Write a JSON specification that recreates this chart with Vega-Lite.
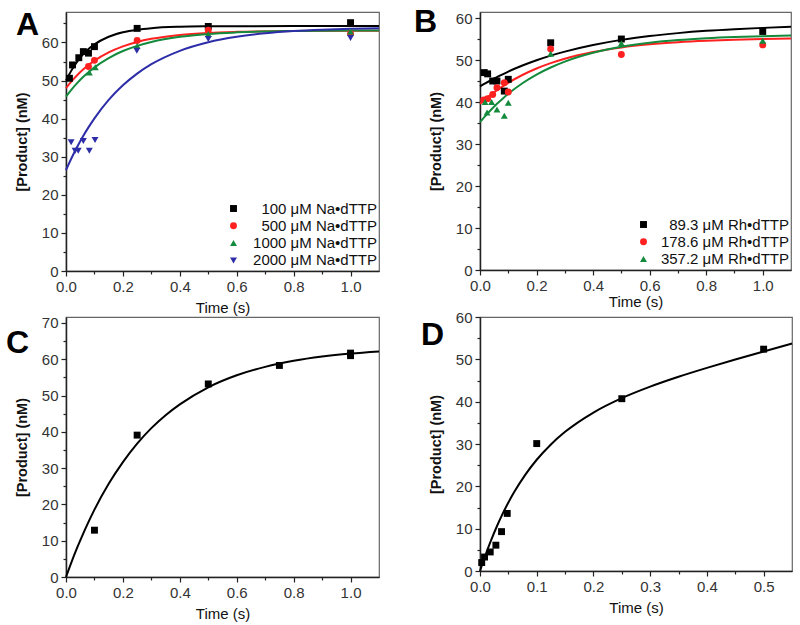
{
  "$schema": "https://vega.github.io/schema/vega-lite/v6.json",
  "padding": {"left": 5, "top": 5, "right": 0, "bottom": 0},
  "background": "white",
  "datasets": {
    "aFit": [
      {"t":0,"v":50,"s":"100 μM Na•dTTP"},{"t":0.02,"v":52.8,"s":"100 μM Na•dTTP"},{"t":0.04,"v":55.05,"s":"100 μM Na•dTTP"},{"t":0.06,"v":56.86,"s":"100 μM Na•dTTP"},{"t":0.08,"v":58.32,"s":"100 μM Na•dTTP"},{"t":0.1,"v":59.5,"s":"100 μM Na•dTTP"},{"t":0.15,"v":61.51,"s":"100 μM Na•dTTP"},{"t":0.2,"v":62.68,"s":"100 μM Na•dTTP"},{"t":0.25,"v":63.36,"s":"100 μM Na•dTTP"},{"t":0.3,"v":63.76,"s":"100 μM Na•dTTP"},{"t":0.4,"v":64.12,"s":"100 μM Na•dTTP"},{"t":0.5,"v":64.24,"s":"100 μM Na•dTTP"},{"t":0.6,"v":64.28,"s":"100 μM Na•dTTP"},{"t":0.8,"v":64.3,"s":"100 μM Na•dTTP"},{"t":1.0,"v":64.3,"s":"100 μM Na•dTTP"},{"t":1.1,"v":64.3,"s":"100 μM Na•dTTP"},
      {"t":0,"v":48,"s":"500 μM Na•dTTP"},{"t":0.02,"v":49.84,"s":"500 μM Na•dTTP"},{"t":0.04,"v":51.46,"s":"500 μM Na•dTTP"},{"t":0.06,"v":52.88,"s":"500 μM Na•dTTP"},{"t":0.08,"v":54.12,"s":"500 μM Na•dTTP"},{"t":0.1,"v":55.22,"s":"500 μM Na•dTTP"},{"t":0.15,"v":57.41,"s":"500 μM Na•dTTP"},{"t":0.2,"v":58.98,"s":"500 μM Na•dTTP"},{"t":0.25,"v":60.13,"s":"500 μM Na•dTTP"},{"t":0.3,"v":60.96,"s":"500 μM Na•dTTP"},{"t":0.4,"v":61.98,"s":"500 μM Na•dTTP"},{"t":0.5,"v":62.51,"s":"500 μM Na•dTTP"},{"t":0.6,"v":62.79,"s":"500 μM Na•dTTP"},{"t":0.8,"v":63.02,"s":"500 μM Na•dTTP"},{"t":1.0,"v":63.08,"s":"500 μM Na•dTTP"},{"t":1.1,"v":63.09,"s":"500 μM Na•dTTP"},
      {"t":0,"v":45.8,"s":"1000 μM Na•dTTP"},{"t":0.02,"v":47.71,"s":"1000 μM Na•dTTP"},{"t":0.04,"v":49.4,"s":"1000 μM Na•dTTP"},{"t":0.06,"v":50.92,"s":"1000 μM Na•dTTP"},{"t":0.08,"v":52.26,"s":"1000 μM Na•dTTP"},{"t":0.1,"v":53.46,"s":"1000 μM Na•dTTP"},{"t":0.15,"v":55.91,"s":"1000 μM Na•dTTP"},{"t":0.2,"v":57.75,"s":"1000 μM Na•dTTP"},{"t":0.25,"v":59.11,"s":"1000 μM Na•dTTP"},{"t":0.3,"v":60.14,"s":"1000 μM Na•dTTP"},{"t":0.4,"v":61.49,"s":"1000 μM Na•dTTP"},{"t":0.5,"v":62.24,"s":"1000 μM Na•dTTP"},{"t":0.6,"v":62.66,"s":"1000 μM Na•dTTP"},{"t":0.8,"v":63.03,"s":"1000 μM Na•dTTP"},{"t":1.0,"v":63.15,"s":"1000 μM Na•dTTP"},{"t":1.1,"v":63.16,"s":"1000 μM Na•dTTP"},
      {"t":0,"v":26.5,"s":"2000 μM Na•dTTP"},{"t":0.02,"v":29.73,"s":"2000 μM Na•dTTP"},{"t":0.04,"v":32.69,"s":"2000 μM Na•dTTP"},{"t":0.06,"v":35.39,"s":"2000 μM Na•dTTP"},{"t":0.08,"v":37.83,"s":"2000 μM Na•dTTP"},{"t":0.1,"v":40.08,"s":"2000 μM Na•dTTP"},{"t":0.15,"v":44.91,"s":"2000 μM Na•dTTP"},{"t":0.2,"v":48.74,"s":"2000 μM Na•dTTP"},{"t":0.25,"v":51.81,"s":"2000 μM Na•dTTP"},{"t":0.3,"v":54.29,"s":"2000 μM Na•dTTP"},{"t":0.4,"v":57.81,"s":"2000 μM Na•dTTP"},{"t":0.5,"v":60.06,"s":"2000 μM Na•dTTP"},{"t":0.6,"v":61.48,"s":"2000 μM Na•dTTP"},{"t":0.7,"v":62.39,"s":"2000 μM Na•dTTP"},{"t":0.8,"v":62.98,"s":"2000 μM Na•dTTP"},{"t":0.9,"v":63.35,"s":"2000 μM Na•dTTP"},{"t":1.0,"v":63.58,"s":"2000 μM Na•dTTP"},{"t":1.1,"v":63.73,"s":"2000 μM Na•dTTP"}
    ],
    "aPts": [
      {"t":0.012,"v":50.6,"s":"100 μM Na•dTTP"},{"t":0.023,"v":54.1,"s":"100 μM Na•dTTP"},{"t":0.045,"v":56.0,"s":"100 μM Na•dTTP"},{"t":0.061,"v":57.6,"s":"100 μM Na•dTTP"},{"t":0.079,"v":57.2,"s":"100 μM Na•dTTP"},{"t":0.1,"v":58.9,"s":"100 μM Na•dTTP"},{"t":0.25,"v":63.7,"s":"100 μM Na•dTTP"},{"t":0.5,"v":64.2,"s":"100 μM Na•dTTP"},{"t":1.0,"v":65.2,"s":"100 μM Na•dTTP"},
      {"t":0.079,"v":53.7,"s":"500 μM Na•dTTP"},{"t":0.1,"v":55.3,"s":"500 μM Na•dTTP"},{"t":0.25,"v":60.5,"s":"500 μM Na•dTTP"},{"t":0.5,"v":63.2,"s":"500 μM Na•dTTP"},{"t":1.0,"v":62.3,"s":"500 μM Na•dTTP"},
      {"t":0.082,"v":52.1,"s":"1000 μM Na•dTTP"},{"t":0.103,"v":53.5,"s":"1000 μM Na•dTTP"},{"t":0.25,"v":59.1,"s":"1000 μM Na•dTTP"},{"t":0.5,"v":62.2,"s":"1000 μM Na•dTTP"},{"t":1.0,"v":62.9,"s":"1000 μM Na•dTTP"},
      {"t":0.018,"v":33.8,"s":"2000 μM Na•dTTP"},{"t":0.032,"v":31.6,"s":"2000 μM Na•dTTP"},{"t":0.043,"v":31.6,"s":"2000 μM Na•dTTP"},{"t":0.061,"v":34.1,"s":"2000 μM Na•dTTP"},{"t":0.082,"v":31.6,"s":"2000 μM Na•dTTP"},{"t":0.102,"v":34.4,"s":"2000 μM Na•dTTP"},{"t":0.249,"v":57.8,"s":"2000 μM Na•dTTP"},{"t":0.5,"v":60.9,"s":"2000 μM Na•dTTP"},{"t":1.0,"v":61.2,"s":"2000 μM Na•dTTP"}
    ],
    "bFit": [
      {"t":0,"v":43.7,"s":"89.3 μM Rh•dTTP"},{"t":0.02,"v":44.49,"s":"89.3 μM Rh•dTTP"},{"t":0.04,"v":45.24,"s":"89.3 μM Rh•dTTP"},{"t":0.06,"v":45.94,"s":"89.3 μM Rh•dTTP"},{"t":0.08,"v":46.6,"s":"89.3 μM Rh•dTTP"},{"t":0.1,"v":47.24,"s":"89.3 μM Rh•dTTP"},{"t":0.15,"v":48.68,"s":"89.3 μM Rh•dTTP"},{"t":0.2,"v":49.94,"s":"89.3 μM Rh•dTTP"},{"t":0.25,"v":51.05,"s":"89.3 μM Rh•dTTP"},{"t":0.3,"v":52.0,"s":"89.3 μM Rh•dTTP"},{"t":0.4,"v":53.57,"s":"89.3 μM Rh•dTTP"},{"t":0.5,"v":54.79,"s":"89.3 μM Rh•dTTP"},{"t":0.6,"v":55.7,"s":"89.3 μM Rh•dTTP"},{"t":0.7,"v":56.4,"s":"89.3 μM Rh•dTTP"},{"t":0.8,"v":56.94,"s":"89.3 μM Rh•dTTP"},{"t":0.9,"v":57.34,"s":"89.3 μM Rh•dTTP"},{"t":1.0,"v":57.65,"s":"89.3 μM Rh•dTTP"},{"t":1.1,"v":57.89,"s":"89.3 μM Rh•dTTP"},
      {"t":0,"v":39.6,"s":"178.6 μM Rh•dTTP"},{"t":0.02,"v":40.75,"s":"178.6 μM Rh•dTTP"},{"t":0.04,"v":41.82,"s":"178.6 μM Rh•dTTP"},{"t":0.06,"v":42.81,"s":"178.6 μM Rh•dTTP"},{"t":0.08,"v":43.72,"s":"178.6 μM Rh•dTTP"},{"t":0.1,"v":44.57,"s":"178.6 μM Rh•dTTP"},{"t":0.15,"v":46.43,"s":"178.6 μM Rh•dTTP"},{"t":0.2,"v":47.97,"s":"178.6 μM Rh•dTTP"},{"t":0.25,"v":49.25,"s":"178.6 μM Rh•dTTP"},{"t":0.3,"v":50.3,"s":"178.6 μM Rh•dTTP"},{"t":0.4,"v":51.89,"s":"178.6 μM Rh•dTTP"},{"t":0.5,"v":52.99,"s":"178.6 μM Rh•dTTP"},{"t":0.6,"v":53.73,"s":"178.6 μM Rh•dTTP"},{"t":0.7,"v":54.24,"s":"178.6 μM Rh•dTTP"},{"t":0.8,"v":54.59,"s":"178.6 μM Rh•dTTP"},{"t":0.9,"v":54.83,"s":"178.6 μM Rh•dTTP"},{"t":1.0,"v":54.99,"s":"178.6 μM Rh•dTTP"},{"t":1.1,"v":55.1,"s":"178.6 μM Rh•dTTP"},
      {"t":0,"v":35.2,"s":"357.2 μM Rh•dTTP"},{"t":0.02,"v":36.77,"s":"357.2 μM Rh•dTTP"},{"t":0.04,"v":38.21,"s":"357.2 μM Rh•dTTP"},{"t":0.06,"v":39.57,"s":"357.2 μM Rh•dTTP"},{"t":0.08,"v":40.8,"s":"357.2 μM Rh•dTTP"},{"t":0.1,"v":41.95,"s":"357.2 μM Rh•dTTP"},{"t":0.15,"v":44.46,"s":"357.2 μM Rh•dTTP"},{"t":0.2,"v":46.53,"s":"357.2 μM Rh•dTTP"},{"t":0.25,"v":48.22,"s":"357.2 μM Rh•dTTP"},{"t":0.3,"v":49.62,"s":"357.2 μM Rh•dTTP"},{"t":0.4,"v":51.71,"s":"357.2 μM Rh•dTTP"},{"t":0.5,"v":53.13,"s":"357.2 μM Rh•dTTP"},{"t":0.6,"v":54.09,"s":"357.2 μM Rh•dTTP"},{"t":0.7,"v":54.74,"s":"357.2 μM Rh•dTTP"},{"t":0.8,"v":55.18,"s":"357.2 μM Rh•dTTP"},{"t":0.9,"v":55.48,"s":"357.2 μM Rh•dTTP"},{"t":1.0,"v":55.68,"s":"357.2 μM Rh•dTTP"},{"t":1.1,"v":55.81,"s":"357.2 μM Rh•dTTP"}
    ],
    "bPts": [
      {"t":0.015,"v":47.0,"s":"89.3 μM Rh•dTTP"},{"t":0.027,"v":46.7,"s":"89.3 μM Rh•dTTP"},{"t":0.045,"v":45.0,"s":"89.3 μM Rh•dTTP"},{"t":0.06,"v":45.0,"s":"89.3 μM Rh•dTTP"},{"t":0.086,"v":42.6,"s":"89.3 μM Rh•dTTP"},{"t":0.1,"v":45.4,"s":"89.3 μM Rh•dTTP"},{"t":0.25,"v":54.1,"s":"89.3 μM Rh•dTTP"},{"t":0.5,"v":55.0,"s":"89.3 μM Rh•dTTP"},{"t":1.0,"v":56.8,"s":"89.3 μM Rh•dTTP"},
      {"t":0.013,"v":40.5,"s":"178.6 μM Rh•dTTP"},{"t":0.027,"v":40.8,"s":"178.6 μM Rh•dTTP"},{"t":0.045,"v":41.8,"s":"178.6 μM Rh•dTTP"},{"t":0.06,"v":43.4,"s":"178.6 μM Rh•dTTP"},{"t":0.086,"v":44.6,"s":"178.6 μM Rh•dTTP"},{"t":0.1,"v":42.4,"s":"178.6 μM Rh•dTTP"},{"t":0.25,"v":52.6,"s":"178.6 μM Rh•dTTP"},{"t":0.5,"v":51.3,"s":"178.6 μM Rh•dTTP"},{"t":1.0,"v":53.6,"s":"178.6 μM Rh•dTTP"},
      {"t":0.018,"v":40.0,"s":"357.2 μM Rh•dTTP"},{"t":0.025,"v":37.5,"s":"357.2 μM Rh•dTTP"},{"t":0.041,"v":40.0,"s":"357.2 μM Rh•dTTP"},{"t":0.06,"v":38.2,"s":"357.2 μM Rh•dTTP"},{"t":0.086,"v":36.7,"s":"357.2 μM Rh•dTTP"},{"t":0.1,"v":39.8,"s":"357.2 μM Rh•dTTP"},{"t":0.25,"v":51.5,"s":"357.2 μM Rh•dTTP"},{"t":0.5,"v":54.0,"s":"357.2 μM Rh•dTTP"},{"t":1.0,"v":54.6,"s":"357.2 μM Rh•dTTP"}
    ],
    "cFit": [
      {"t":0,"v":0},{"t":0.02,"v":4.26},{"t":0.04,"v":8.2},{"t":0.06,"v":11.89},{"t":0.08,"v":15.33},{"t":0.1,"v":18.57},{"t":0.15,"v":25.69},{"t":0.2,"v":31.67},{"t":0.25,"v":36.76},{"t":0.3,"v":41.02},{"t":0.35,"v":44.58},{"t":0.4,"v":47.57},{"t":0.5,"v":52.28},{"t":0.6,"v":55.59},{"t":0.7,"v":57.91},{"t":0.8,"v":59.57},{"t":0.9,"v":60.75},{"t":1.0,"v":61.58},{"t":1.1,"v":62.17}
    ],
    "cPts": [
      {"t":0.1,"v":12.9},{"t":0.25,"v":39.1},{"t":0.5,"v":53.2},{"t":0.75,"v":58.3},{"t":1.0,"v":61.7},{"t":1.0,"v":61.0}
    ],
    "dFit": [
      {"t":0,"v":0},{"t":0.01,"v":3.9},{"t":0.02,"v":7.42},{"t":0.03,"v":10.63},{"t":0.04,"v":13.54},{"t":0.05,"v":16.18},{"t":0.06,"v":18.58},{"t":0.08,"v":22.77},{"t":0.1,"v":26.28},{"t":0.125,"v":29.9},{"t":0.15,"v":32.87},{"t":0.2,"v":37.43},{"t":0.25,"v":40.83},{"t":0.3,"v":43.55},{"t":0.35,"v":45.88},{"t":0.4,"v":47.98},{"t":0.45,"v":49.96},{"t":0.5,"v":51.86},{"t":0.55,"v":53.72}
    ],
    "dPts": [
      {"t":0.003,"v":2.0},{"t":0.008,"v":3.3},{"t":0.018,"v":4.5},{"t":0.028,"v":6.1},{"t":0.038,"v":9.3},{"t":0.048,"v":13.6},{"t":0.1,"v":30.1},{"t":0.25,"v":40.7},{"t":0.5,"v":52.4}
    ]
  },
  "columns": 2,
  "spacing": {"row": 45, "column": 101},
  "bounds": "flush",
  "align": "all",
  "resolve": {
    "scale": {"color": "independent", "shape": "independent", "x": "independent", "y": "independent"},
    "legend": {"color": "independent", "shape": "independent"}
  },
  "concat": [
    {
      "width": 313, "height": 259,
      "title": {"text": "A", "anchor": "start", "frame": "group", "orient": "none", "offset": 0, "dx": -50, "dy": 23, "baseline": "alphabetic", "align": "left", "fontSize": 32, "fontWeight": "bold", "font": "Liberation Sans", "color": "#000"},
      "layer": [
        {
          "data": {"name": "aFit"},
          "mark": {"type": "line", "strokeWidth": 2, "interpolate": "monotone"},
          "encoding": {
            "x": {"field": "t", "type": "quantitative", "scale": {"domain": [0, 1.1], "nice": false, "zero": false}, "axis": {"values": [0, 0.2, 0.4, 0.6, 0.8, 1.0], "format": ".1f", "title": "Time (s)"}},
            "y": {"field": "v", "type": "quantitative", "scale": {"domain": [0, 68], "nice": false}, "axis": {"values": [0, 10, 20, 30, 40, 50, 60], "title": "[Product] (nM)"}},
            "color": {"field": "s", "type": "nominal", "scale": {"domain": ["100 μM Na•dTTP", "500 μM Na•dTTP", "1000 μM Na•dTTP", "2000 μM Na•dTTP"], "range": ["#000000", "#ff2020", "#138a3c", "#2d2da8"]}}
          }
        },
        {
          "data": {"name": "aPts"},
          "mark": {"type": "point", "filled": true, "opacity": 1, "size": 48},
          "encoding": {
            "x": {"field": "t", "type": "quantitative", "axis": {"orient": "bottom", "values": [0.1, 0.3, 0.5, 0.7, 0.9], "labels": false, "tickSize": 3, "domain": false, "title": null}},
            "y": {"field": "v", "type": "quantitative", "axis": {"orient": "left", "values": [5, 15, 25, 35, 45, 55, 65], "labels": false, "tickSize": 3, "domain": false, "title": null}},
            "color": {"field": "s", "type": "nominal", "scale": {"domain": ["100 μM Na•dTTP", "500 μM Na•dTTP", "1000 μM Na•dTTP", "2000 μM Na•dTTP"], "range": ["#000000", "#ff2020", "#138a3c", "#2d2da8"]}, "legend": {"title": null, "orient": "bottom-right", "offset": 2, "padding": 0, "labelAlign": "right", "labelOffset": 136}},
            "shape": {"field": "s", "type": "nominal", "scale": {"domain": ["100 μM Na•dTTP", "500 μM Na•dTTP", "1000 μM Na•dTTP", "2000 μM Na•dTTP"], "range": ["square", "circle", "triangle-up", "triangle-down"]}, "legend": {"title": null, "orient": "bottom-right", "offset": 2, "padding": 0, "labelAlign": "right", "labelOffset": 136}}
          }
        }
      ],
      "resolve": {"axis": {"x": "independent", "y": "independent"}}
    },
    {
      "width": 311, "height": 258,
      "title": {"text": "B", "anchor": "start", "frame": "group", "orient": "none", "offset": 0, "dx": -66, "dy": 20, "baseline": "alphabetic", "align": "left", "fontSize": 32, "fontWeight": "bold", "font": "Liberation Sans", "color": "#000"},
      "layer": [
        {
          "data": {"name": "bFit"},
          "mark": {"type": "line", "strokeWidth": 2, "interpolate": "monotone"},
          "encoding": {
            "x": {"field": "t", "type": "quantitative", "scale": {"domain": [0, 1.1], "nice": false, "zero": false}, "axis": {"values": [0, 0.2, 0.4, 0.6, 0.8, 1.0], "format": ".1f", "title": "Time (s)", "titlePadding": 1}},
            "y": {"field": "v", "type": "quantitative", "scale": {"domain": [0, 61.43], "nice": false}, "axis": {"values": [0, 10, 20, 30, 40, 50, 60], "title": "[Product] (nM)"}},
            "color": {"field": "s", "type": "nominal", "scale": {"domain": ["89.3 μM Rh•dTTP", "178.6 μM Rh•dTTP", "357.2 μM Rh•dTTP"], "range": ["#000000", "#ff2020", "#138a3c"]}}
          }
        },
        {
          "data": {"name": "bPts"},
          "mark": {"type": "point", "filled": true, "opacity": 1, "size": 48},
          "encoding": {
            "x": {"field": "t", "type": "quantitative", "axis": {"orient": "bottom", "values": [0.1, 0.3, 0.5, 0.7, 0.9], "labels": false, "tickSize": 3, "domain": false, "title": null}},
            "y": {"field": "v", "type": "quantitative", "axis": {"orient": "left", "values": [5, 15, 25, 35, 45, 55], "labels": false, "tickSize": 3, "domain": false, "title": null}},
            "color": {"field": "s", "type": "nominal", "scale": {"domain": ["89.3 μM Rh•dTTP", "178.6 μM Rh•dTTP", "357.2 μM Rh•dTTP"], "range": ["#000000", "#ff2020", "#138a3c"]}, "legend": {"title": null, "orient": "bottom-right", "offset": 2, "padding": 0, "labelAlign": "right", "labelOffset": 138}},
            "shape": {"field": "s", "type": "nominal", "scale": {"domain": ["89.3 μM Rh•dTTP", "178.6 μM Rh•dTTP", "357.2 μM Rh•dTTP"], "range": ["square", "circle", "triangle-up"]}, "legend": {"title": null, "orient": "bottom-right", "offset": 2, "padding": 0, "labelAlign": "right", "labelOffset": 138}}
          }
        }
      ],
      "resolve": {"axis": {"x": "independent", "y": "independent"}}
    },
    {
      "width": 313, "height": 260,
      "title": {"text": "C", "anchor": "start", "frame": "group", "orient": "none", "offset": 0, "dx": -60, "dy": 36, "baseline": "alphabetic", "align": "left", "fontSize": 32, "fontWeight": "bold", "font": "Liberation Sans", "color": "#000"},
      "layer": [
        {
          "data": {"name": "cFit"},
          "mark": {"type": "line", "strokeWidth": 2, "interpolate": "monotone", "color": "#000000"},
          "encoding": {
            "x": {"field": "t", "type": "quantitative", "scale": {"domain": [0, 1.1], "nice": false, "zero": false}, "axis": {"values": [0, 0.2, 0.4, 0.6, 0.8, 1.0], "format": ".1f", "title": "Time (s)"}},
            "y": {"field": "v", "type": "quantitative", "scale": {"domain": [0, 71.65], "nice": false}, "axis": {"values": [0, 10, 20, 30, 40, 50, 60, 70], "title": "[Product] (nM)"}}
          }
        },
        {
          "data": {"name": "cPts"},
          "mark": {"type": "square", "opacity": 1, "size": 48, "color": "#000000"},
          "encoding": {
            "x": {"field": "t", "type": "quantitative", "axis": {"orient": "bottom", "values": [0.1, 0.3, 0.5, 0.7, 0.9], "labels": false, "tickSize": 3, "domain": false, "title": null}},
            "y": {"field": "v", "type": "quantitative", "axis": {"orient": "left", "values": [5, 15, 25, 35, 45, 55, 65], "labels": false, "tickSize": 3, "domain": false, "title": null}}
          }
        }
      ],
      "resolve": {"axis": {"x": "independent", "y": "independent"}}
    },
    {
      "width": 312, "height": 254,
      "title": {"text": "D", "anchor": "start", "frame": "group", "orient": "none", "offset": 0, "dx": -59, "dy": 28, "baseline": "alphabetic", "align": "left", "fontSize": 32, "fontWeight": "bold", "font": "Liberation Sans", "color": "#000"},
      "layer": [
        {
          "data": {"name": "dFit"},
          "mark": {"type": "line", "strokeWidth": 2, "interpolate": "monotone", "color": "#000000"},
          "encoding": {
            "x": {"field": "t", "type": "quantitative", "scale": {"domain": [0, 0.55], "nice": false, "zero": false}, "axis": {"values": [0, 0.1, 0.2, 0.3, 0.4, 0.5], "format": ".1f", "title": "Time (s)"}},
            "y": {"field": "v", "type": "quantitative", "scale": {"domain": [0, 60], "nice": false}, "axis": {"values": [0, 10, 20, 30, 40, 50, 60], "title": "[Product] (nM)"}}
          }
        },
        {
          "data": {"name": "dPts"},
          "mark": {"type": "square", "opacity": 1, "size": 48, "color": "#000000"},
          "encoding": {
            "x": {"field": "t", "type": "quantitative", "axis": {"orient": "bottom", "values": [0.05, 0.15, 0.25, 0.35, 0.45], "labels": false, "tickSize": 3, "domain": false, "title": null}},
            "y": {"field": "v", "type": "quantitative", "axis": {"orient": "left", "values": [5, 15, 25, 35, 45, 55], "labels": false, "tickSize": 3, "domain": false, "title": null}}
          }
        }
      ],
      "resolve": {"axis": {"x": "independent", "y": "independent"}}
    }
  ],
  "config": {
    "font": "Liberation Sans",
    "view": {"stroke": "#666666", "strokeWidth": 1.2},
    "axis": {"labelFont": "Liberation Sans", "labelFontSize": 15, "labelColor": "#333333", "titleFont": "Liberation Sans", "titleColor": "#111111", "domainColor": "#222222", "domainWidth": 1.5, "tickColor": "#222222", "tickWidth": 1.2, "tickSize": 5, "labelPadding": 3, "grid": false, "labelFlush": false, "labelOverlap": false},
    "axisX": {"titleFontSize": 15, "titleFontWeight": "normal", "titlePadding": 6},
    "axisY": {"titleFontSize": 14.5, "titleFontWeight": "bold", "titlePadding": 12},
    "legend": {"labelFont": "Liberation Sans", "labelFontSize": 15, "labelColor": "#111111", "symbolSize": 48, "rowPadding": 1.3, "symbolStrokeWidth": 0, "labelLimit": 300}
  }
}
